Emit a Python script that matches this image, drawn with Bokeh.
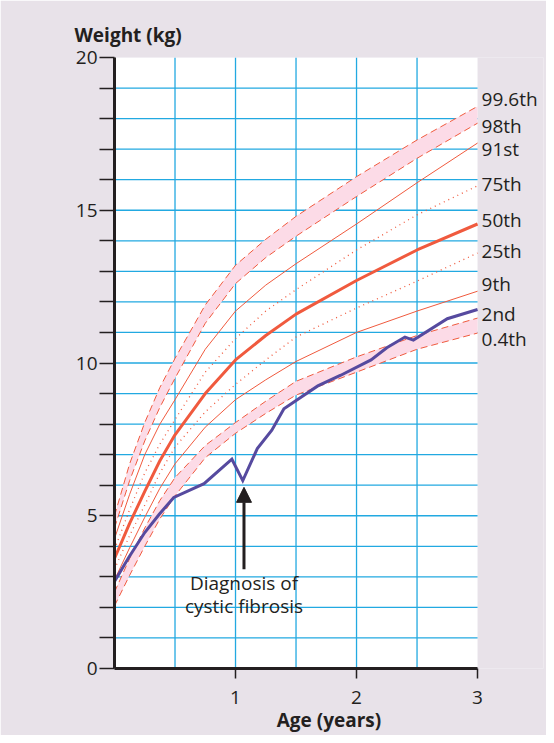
from bokeh.plotting import figure
from bokeh.models import Range1d, FixedTicker, Label, Arrow, NormalHead
from bokeh.embed import file_html
from bokeh.resources import INLINE

# ---- data ----
ages = [0, 0.125, 0.25, 0.375, 0.5, 0.75, 1, 1.25, 1.5, 2, 2.5, 3]
p996 = [5.0, 6.7, 8.05, 9.2, 10.15, 11.9, 13.2, 14.05, 14.8, 16.1, 17.3, 18.4]
p98 = [4.6, 6.15, 7.45, 8.55, 9.5, 11.3, 12.6, 13.45, 14.15, 15.45, 16.7, 17.85]
p91 = [4.25, 5.7, 7.0, 8.0, 8.8, 10.45, 11.7, 12.55, 13.25, 14.55, 15.9, 17.2]
p75 = [3.9, 5.2, 6.4, 7.35, 8.15, 9.7, 10.8, 11.7, 12.4, 13.7, 14.85, 15.8]
p50 = [3.6, 4.75, 5.8, 6.8, 7.65, 9.0, 10.1, 10.9, 11.6, 12.7, 13.7, 14.55]
p25 = [3.25, 4.35, 5.35, 6.4, 7.25, 8.4, 9.3, 10.1, 10.85, 11.8, 12.68, 13.6]
p9 = [2.9, 3.95, 4.95, 5.9, 6.7, 7.9, 8.8, 9.45, 10.05, 11.0, 11.7, 12.35]
p2 = [2.5, 3.6, 4.6, 5.5, 6.25, 7.3, 8.05, 8.75, 9.4, 10.2, 10.9, 11.47]
p04 = [2.05, 3.05, 4.0, 4.9, 5.65, 6.9, 7.7, 8.35, 8.95, 9.7, 10.45, 10.98]

centile_names = ["99.6th", "98th", "91st", "75th", "50th", "25th", "9th", "2nd", "0.4th"]

patient_age = [0, 0.12, 0.25, 0.37, 0.49, 0.74, 0.97, 1.06, 1.18, 1.3, 1.4, 1.51,
               1.68, 1.87, 2.12, 2.25, 2.4, 2.47, 2.75, 3.0]
patient_wt = [2.85, 3.65, 4.45, 5.05, 5.6, 6.05, 6.85, 6.15, 7.2, 7.8, 8.5, 8.8,
              9.25, 9.6, 10.1, 10.5, 10.85, 10.75, 11.45, 11.75]

y_ticks = list(range(0, 21))
y_labels = [0, 5, 10, 15, 20]
x_ticks = [1, 2, 3]
x_grid = [0.5, 1, 1.5, 2, 2.5]
y_grid = list(range(1, 20))

# ---- layout / style ----
BG = "#e8e2e9"
INK = "#231f20"
RED = "#f05a3e"
PINK = "#fcdbe7"
BLUE = "#22a9e1"
PURPLE = "#564a9f"
FONT = "Open Sans"
FS = "19px"

X_MAX, Y_MAX = 3, 20
p = figure(width=546, height=735, output_backend="svg", toolbar_location=None,
           x_range=Range1d(0, 3.545), y_range=Range1d(0, Y_MAX),
           min_border_left=114, min_border_right=3, min_border_top=57,
           min_border_bottom=66)
p.border_fill_color = BG
p.background_fill_color = BG
p.outline_line_color = None
p.xgrid.visible = False
p.ygrid.visible = False

p.title.text = "Weight (kg)"
p.title.align = "left"
p.title.offset = -40
p.title.standoff = 19
p.title.text_font = FONT
p.title.text_font_size = FS
p.title.text_font_style = "bold"
p.title.text_color = INK

# white chart area
p.quad(left=0, right=X_MAX, bottom=0, top=Y_MAX, fill_color="white", line_color=None)

# grid
for yv in y_grid:
    p.line([0, X_MAX], [yv, yv], line_color=BLUE, line_width=1.3)
for xv in x_grid:
    p.line([xv, xv], [0, Y_MAX], line_color=BLUE, line_width=1.3)

# shaded bands
p.varea(x=ages, y1=p98, y2=p996, fill_color=PINK)
p.varea(x=ages, y1=p04, y2=p2, fill_color=PINK)

dash = "7 4"
dot = "1 4"
for series in (p996, p98, p2, p04):
    p.line(ages, series, line_color=RED, line_width=1, line_dash=dash)
for series in (p91, p9):
    p.line(ages, series, line_color=RED, line_width=1)
for series in (p75, p25):
    p.line(ages, series, line_color=RED, line_width=1.3, line_dash=dot)
p.line(ages, p50, line_color=RED, line_width=3)

# patient
p.line(patient_age, patient_wt, line_color=PURPLE, line_width=3, line_join="miter")

# axes
for ax in (p.xaxis[0], p.yaxis[0]):
    ax.axis_line_color = INK
    ax.axis_line_width = 3
    ax.major_tick_line_color = INK
    ax.major_tick_line_width = 1.5
    ax.major_tick_in = 0
    ax.minor_tick_line_color = None
    ax.major_label_text_font = FONT
    ax.major_label_text_font_size = FS
    ax.major_label_text_color = INK

p.yaxis.bounds = (0, Y_MAX)
p.yaxis.ticker = FixedTicker(ticks=y_ticks)
p.yaxis.major_label_overrides = {t: (str(t) if t in y_labels else "") for t in y_ticks}
p.yaxis.major_tick_out = 15
p.yaxis.major_label_standoff = 2

p.xaxis.bounds = (0, X_MAX)
p.xaxis.ticker = FixedTicker(ticks=x_ticks)
p.xaxis.major_tick_out = 10
p.xaxis.major_label_standoff = 12
p.xaxis.axis_label = "Age (years)"
p.xaxis.axis_label_text_font = FONT
p.xaxis.axis_label_text_font_style = "bold"
p.xaxis.axis_label_text_font_size = FS
p.xaxis.axis_label_text_color = INK
p.xaxis.axis_label_standoff = 0

# centile labels at right
ends = [s[-1] for s in (p996, p98, p91, p75, p50, p25, p9, p2, p04)]
label_shift = [0.25, -0.1, -0.2, 0.05, 0.12, 0.07, 0.22, 0.15, -0.2]
for name, yv, dy in zip(centile_names, ends, label_shift):
    p.add_layout(Label(x=X_MAX, y=yv + dy, x_offset=4, text=name, text_font=FONT,
                       text_font_size=FS, text_color=INK,
                       text_baseline="middle"))

# diagnosis annotation (at the dip in the patient's weight)
i_dx = next(i for i in range(1, len(patient_wt)) if patient_wt[i] < patient_wt[i - 1])
dx_age = patient_age[i_dx] + 0.01
dx_wt = patient_wt[i_dx]
p.add_layout(Arrow(end=NormalHead(size=15, fill_color=INK, line_color=INK),
                   x_start=dx_age, y_start=dx_wt - 2.9,
                   x_end=dx_age, y_end=dx_wt - 0.22,
                   line_color=INK, line_width=3))
p.add_layout(Label(x=dx_age, y=dx_wt - 3.34, text="Diagnosis of",
                   text_font=FONT, text_font_size=FS, text_color=INK,
                   text_align="center", text_baseline="middle"))
p.add_layout(Label(x=dx_age, y=dx_wt - 4.12, text="cystic fibrosis",
                   text_font=FONT, text_font_size=FS, text_color=INK,
                   text_align="center", text_baseline="middle"))

open("out.html", "w").write(file_html(p, INLINE))
